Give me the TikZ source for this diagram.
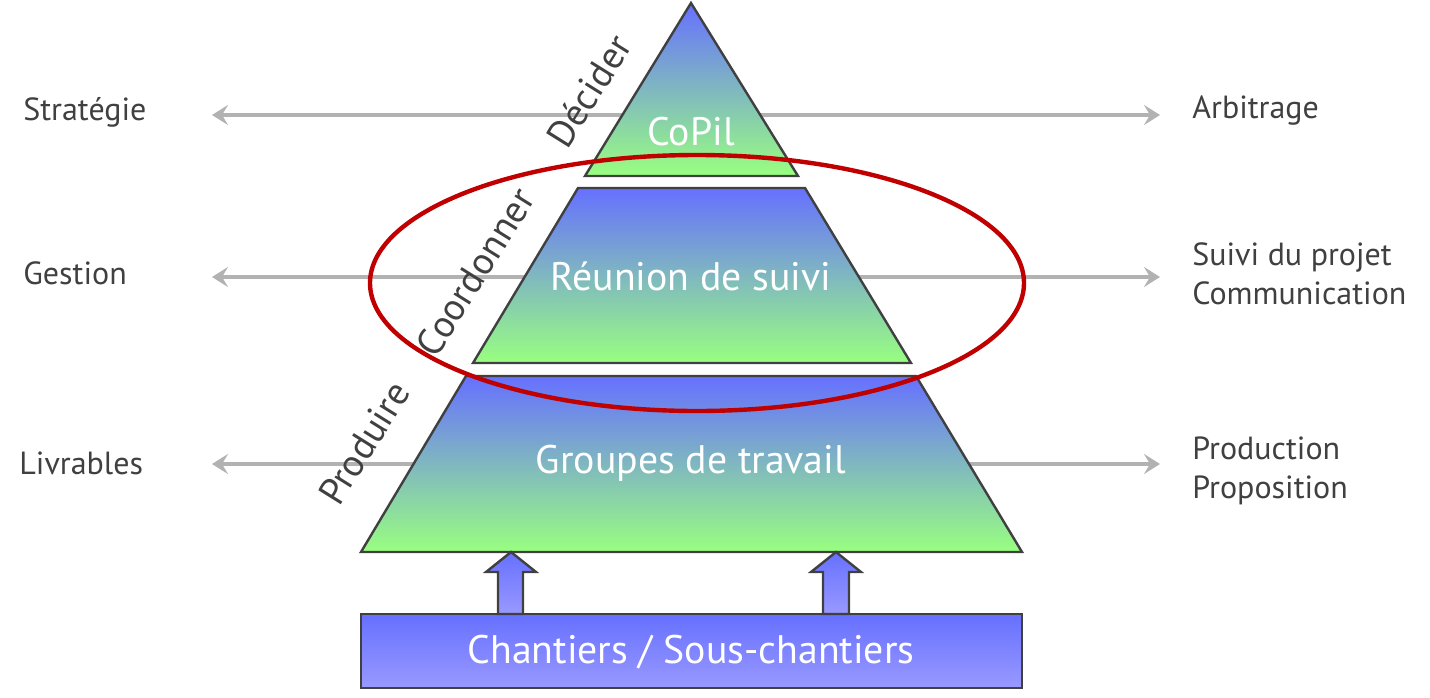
\documentclass[tikz,border=0pt]{standalone}
\usepackage{fontspec}
\setmainfont{PT Sans}
\usetikzlibrary{arrows.meta}
\definecolor{pyrblue}{RGB}{102,112,255}
\definecolor{pyrcyan}{RGB}{138,212,214}
\definecolor{pyrgreen}{RGB}{153,255,128}
\definecolor{boxblue}{RGB}{153,153,255}
\definecolor{textgrey}{RGB}{64,64,64}
\definecolor{linegrey}{RGB}{178,178,178}
\definecolor{ringred}{RGB}{192,0,0}

\begin{document}
\begin{tikzpicture}[x=0.5pt, y=-0.5pt,
    level/.style={draw=textgrey, line width=1.2pt, top color=pyrblue, middle color=pyrcyan, bottom color=pyrgreen},
    block/.style={draw=textgrey, line width=1.2pt, top color=pyrblue, bottom color=boxblue},
    sidearrow/.style={draw=linegrey, line width=2.2pt, {Stealth[length=8pt,width=10pt,inset=3pt]}-{Stealth[length=8pt,width=10pt,inset=3pt]}},
    side/.style={text=textgrey, font=\fontsize{16}{19.5}\selectfont, anchor=west, align=left, inner sep=0pt},
    verb/.style={text=textgrey, font=\fontsize{19}{23}\selectfont, rotate=58},
    inside/.style={text=white, font=\fontsize{19.9}{24}\selectfont}]
    \useasboundingbox (0,0) rectangle (1430,697);

    % Side arrows (behind the pyramid)
    \coordinate (lv1-l) at (212,115);  \coordinate (lv1-r) at (1160,115);
    \coordinate (lv2-l) at (212,277);  \coordinate (lv2-r) at (1160,277);
    \coordinate (lv3-l) at (212,464);  \coordinate (lv3-r) at (1160,464);
    \draw[sidearrow] (lv1-l) -- (lv1-r);
    \draw[sidearrow] (lv2-l) -- (lv2-r);
    \draw[sidearrow] (lv3-l) -- (lv3-r);

    % Pyramid levels
    \path[level] (691,3) -- (798,176) -- (585,176) -- cycle;
    \path[level] (578,188) -- (805,188) -- (911,363) -- (473,363) -- cycle;
    \path[level] (466,376) -- (916,376) -- (1022,552) -- (361,552) -- cycle;

    % Base and up arrows
    \path[block] (361,614) rectangle (1022,688);
    \path[block] (498,614) -- (498,572) -- (486,572) -- (511,552) -- (536,572) -- (523,572) -- (523,614) -- cycle;
    \path[block] (823,614) -- (823,572) -- (811,572) -- (836,552) -- (861,572) -- (849,572) -- (849,614) -- cycle;

    % Texts inside
    \node[inside] (copil) at (691,132) {CoPil};
    \node[inside] (suivi) at (691,276) {Réunion de suivi};
    \node[inside] (groupes) at (691,463) {Groupes de travail};
    \node[inside] (chantiers) at (691,652) {Chantiers / Sous-chantiers};

    % Verbs along the slope
    \node[verb] (decider) at (589,91) {Décider};
    \node[verb] (coord) at (475,272) {Coordonner};
    \node[verb] (produire) at (364,443) {Produire};

    % Left labels
    \node[side] (strat) at (23,112) {Stratégie};
    \node[side] (gestion) at (23,273) {Gestion};
    \node[side] (livr) at (19,463) {Livrables};

    % Right labels
    \node[side] (arbi) at (1192,111) {Arbitrage};
    \node[side] (commu) at (1192,274) {Suivi du projet\\Communication};
    \node[side] (prod) at (1192,471) {Production\\Proposition};

    % Focus ring
    \draw[ringred, line width=2.2pt] (697,283) ellipse [x radius=327, y radius=128];
\end{tikzpicture}
\end{document}
